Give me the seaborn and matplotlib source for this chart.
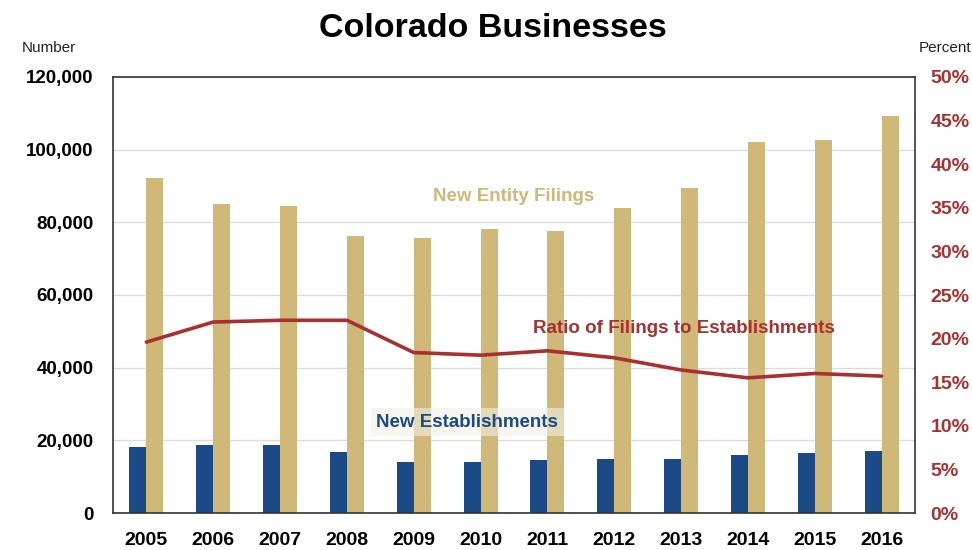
import matplotlib
matplotlib.use("Agg")
import matplotlib.pyplot as plt
import numpy as np
import pandas as pd
import seaborn as sns
from matplotlib.ticker import FuncFormatter

years = ["2005", "2006", "2007", "2008", "2009", "2010",
         "2011", "2012", "2013", "2014", "2015", "2016"]
establishments = [18200, 18600, 18600, 16800, 14000, 14100,
                  14600, 15000, 14900, 15900, 16400, 17100]
filings = [92100, 85000, 84500, 76300, 75600, 78100,
           77600, 83900, 89500, 102000, 102600, 109400]
ratio = [19.6, 21.9, 22.1, 22.1, 18.4, 18.1,
         18.6, 17.8, 16.4, 15.5, 16.0, 15.7]

NAVY = "#1b4a86"
TAN = "#cfb878"
RED = "#a9302e"

sns.set_theme(style="white")
plt.rcParams["font.family"] = ["Liberation Sans", "DejaVu Sans"]

df = pd.DataFrame({
    "year": years * 2,
    "value": establishments + filings,
    "series": ["New Establishments"] * len(years) + ["New Entity Filings"] * len(years),
})

fig = plt.figure(figsize=(9.72, 5.5), dpi=100)
ax = fig.add_axes([113 / 972, 37 / 550, 802 / 972, 436 / 550])

sns.barplot(data=df, x="year", y="value", hue="series",
            palette={"New Establishments": NAVY, "New Entity Filings": TAN},
            width=0.51, gap=0, saturation=1, linewidth=0, legend=False, ax=ax)

ax.set_ylim(0, 120000)
ax.set_xlim(-0.5, len(years) - 0.5)
ax.set_yticks(np.arange(0, 120001, 20000))
ax.yaxis.set_major_formatter(FuncFormatter(lambda v, p: f"{int(v):,}"))
ax.yaxis.grid(True, color="#dcdcdc", linewidth=1)
ax.set_axisbelow(True)
ax.set_xlabel("")
ax.set_ylabel("")
for s in ax.spines.values():
    s.set_color("#333333")
    s.set_linewidth(1.2)
ax.tick_params(axis="y", length=0, labelsize=13.5, pad=14, labelcolor="black")
ax.tick_params(axis="x", length=0, labelsize=14, pad=14, labelcolor="black")
for t in ax.get_xticklabels() + ax.get_yticklabels():
    t.set_fontweight("bold")

ax2 = ax.twinx()
sns.lineplot(x=np.arange(len(years)), y=ratio, color=RED, linewidth=2.6, ax=ax2)
ax2.set_ylim(0, 50)
ax2.set_yticks(np.arange(0, 51, 5))
ax2.yaxis.set_major_formatter(FuncFormatter(lambda v, p: f"{int(v)}%"))
ax2.tick_params(axis="y", length=0, labelsize=14, pad=11, labelcolor=RED)
for t in ax2.get_yticklabels():
    t.set_fontweight("bold")
for s in ax2.spines.values():
    s.set_visible(False)

ax.text(5.5, 87000, "New Entity Filings", color=TAN, fontsize=13.5,
        fontweight="bold", ha="center", va="center")
ax.text(4.8, 25000, "New Establishments", color=NAVY, fontsize=13.5,
        fontweight="bold", ha="center", va="center",
        bbox=dict(facecolor="#f3f0e6", edgecolor="none", alpha=0.6, pad=4))
ax2.text(8.05, 21.2, "Ratio of Filings to Establishments", color=RED, fontsize=13.5,
         fontweight="bold", ha="center", va="center")

fig.text(0.507, 0.948, "Colorado Businesses", ha="center", va="center",
         fontsize=24.5, fontweight="bold", color="black")
fig.text(22 / 972, 0.912, "Number", ha="left", va="center", fontsize=11, color="#222222")
fig.text(971 / 972, 0.912, "Percent", ha="right", va="center", fontsize=11, color="#222222")

fig.savefig("out.png", dpi=100)
